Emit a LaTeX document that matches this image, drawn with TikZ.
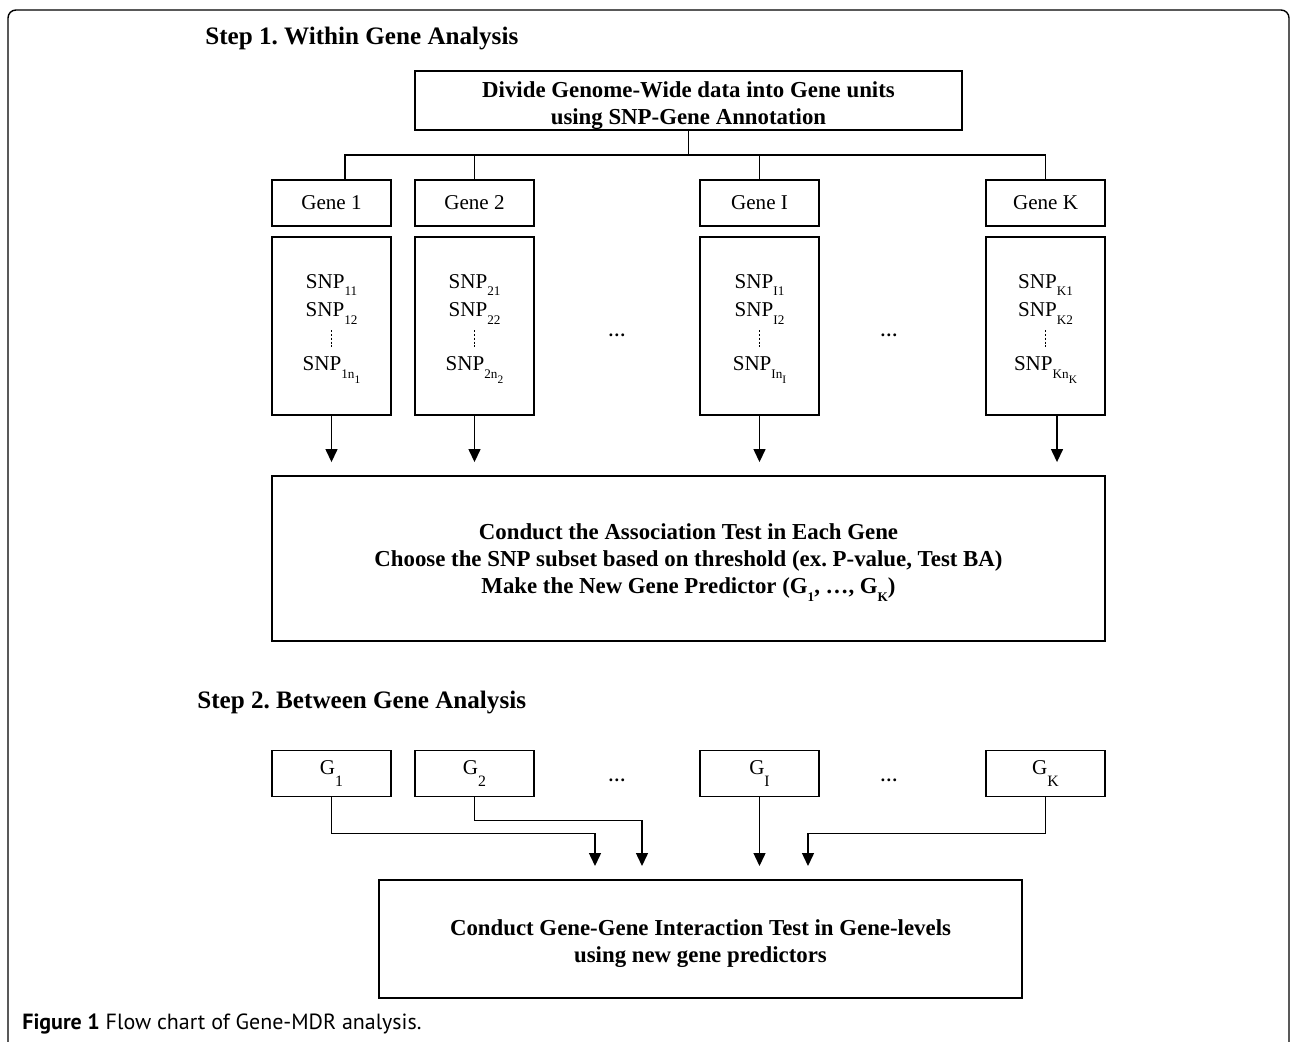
\documentclass[tikz,border=0pt]{standalone}
\usepackage{fontspec}
\setmainfont{Liberation Serif}
\newfontfamily\capfont{PT Sans}
\usetikzlibrary{arrows.meta}
\frenchspacing
\newcommand\snpsub[1]{\raisebox{-4.5pt}{\fontsize{7.5}{8}\selectfont#1}}
\newcommand\nsub[1]{\raisebox{-3pt}{\fontsize{6.5}{7}\selectfont#1}}
\newcommand\gsub[1]{\raisebox{-7pt}{\fontsize{9}{9}\selectfont#1}}
\tikzset{
  box/.style={draw, line width=1.1pt, inner sep=0pt, align=center},
  gene/.style={box, minimum width=2.38cm, minimum height=0.92cm, font=\fontsize{12}{14}\selectfont},
  snps/.style={box, minimum width=2.38cm, minimum height=3.56cm, font=\fontsize{12}{16}\selectfont},
  task/.style={box, font=\bfseries\fontsize{13}{15.6}\selectfont},
  title/.style={anchor=base west, inner sep=0pt, font=\bfseries\fontsize{14.3}{17}\selectfont},
  arr/.style={-{Triangle[length=0.26cm,width=0.24cm]}, line width=0.8pt},
  link/.style={line width=0.8pt},
  dotcol/.style={line width=1.1pt, dash pattern=on 1.1pt off 1.1pt}
}
\begin{document}
\begin{tikzpicture}[x=0.02cm, y=-0.02cm]
\useasboundingbox (0,0) rectangle (1290,1041);
\draw[line width=0.8pt, rounded corners=0.16cm] (8,10) rectangle (1289,1090);

% Step 1
\node[title] (step1) at (205,44) {Step 1. Within Gene Analysis};
\node[task, minimum width=10.94cm, minimum height=1.18cm] (divide) at (688.5,100.5) {\rule{0pt}{14.5pt}Divide Genome-Wide data into Gene units\\using SNP-Gene Annotation};

\node[gene] (gene1) at (331.5,203) {Gene 1};
\node[gene] (gene2) at (474.5,203) {Gene 2};
\node[gene] (geneI) at (759.5,203) {Gene I};
\node[gene] (geneK) at (1045.5,203) {Gene K};

\coordinate (bus) at (688.5,155);
\draw[link] (divide.south) -- (bus);
\draw[link] ([xshift=0.27cm]gene1.north) |- (bus) -| (geneK.north);
\draw[link] (gene2.north) -- (gene2.north |- bus);
\draw[link] (geneI.north) -- (geneI.north |- bus);

\node[snps] (snp1) at (331.5,326) {\rule{0pt}{11pt}SNP\snpsub{11}\\SNP\snpsub{12}\\[14.7pt]SNP\snpsub{1n\nsub{1}}};
\node[snps] (snp2) at (474.5,326) {\rule{0pt}{11pt}SNP\snpsub{21}\\SNP\snpsub{22}\\[14.7pt]SNP\snpsub{2n\nsub{2}}};
\node[snps] (snpI) at (759.5,326) {\rule{0pt}{11pt}SNP\snpsub{I1}\\SNP\snpsub{I2}\\[14.7pt]SNP\snpsub{In\nsub{I}}};
\node[snps] (snpK) at (1045.5,326) {\rule{0pt}{11pt}SNP\snpsub{K1}\\SNP\snpsub{K2}\\[14.7pt]SNP\snpsub{Kn\nsub{K}}};
\draw[dotcol] ([yshift=-0.08cm]snp1.center) -- ([yshift=-0.42cm]snp1.center);
\draw[dotcol] ([yshift=-0.08cm]snp2.center) -- ([yshift=-0.42cm]snp2.center);
\draw[dotcol] ([yshift=-0.08cm]snpI.center) -- ([yshift=-0.42cm]snpI.center);
\draw[dotcol] ([yshift=-0.08cm]snpK.center) -- ([yshift=-0.42cm]snpK.center);
\node (dots1) at (617,335) {\textbf{\dots}};
\node (dots2) at (889,335) {\textbf{\dots}};

\node[task, minimum width=16.66cm, minimum height=3.3cm] (assoc) at (688.5,558.5) {\rule{0pt}{13.5pt}Conduct the Association Test in Each Gene\\Choose the SNP subset based on threshold (ex. P-value, Test BA)\\Make the New Gene Predictor (G\snpsub{1}, \dots, G\snpsub{K})};

\draw[arr, shorten >=0.26cm] (snp1) -- (snp1 |- assoc.north);
\draw[arr, shorten >=0.26cm] (snp2) -- (snp2 |- assoc.north);
\draw[arr, shorten >=0.26cm] (snpI) -- (snpI |- assoc.north);
\draw[arr, shorten >=0.26cm] ([xshift=0.23cm]snpK.south) -- ([xshift=0.23cm]snpK.south |- assoc.north);

% Step 2
\node[title] (step2) at (197,708) {Step 2. Between Gene Analysis};

\node[gene] (g1) at (331.5,773.5) {G\gsub{1}};
\node[gene] (g2) at (474.5,773.5) {G\gsub{2}};
\node[gene] (gI) at (759.5,773.5) {G\gsub{I}};
\node[gene] (gK) at (1045.5,773.5) {G\gsub{K}};
\node (dots3) at (617,780) {\textbf{\dots}};
\node (dots4) at (889,780) {\textbf{\dots}};

\node[task, minimum width=12.86cm, minimum height=2.36cm] (inter) at (700.5,939) {\rule{0pt}{14.5pt}Conduct Gene-Gene Interaction Test in Gene-levels\\using new gene predictors};

\coordinate (in1) at (595,866);
\coordinate (in2) at (642,866);
\coordinate (inI) at (759.5,866);
\coordinate (inK) at (808,866);
\draw[arr] (g1.south) -- ++(0,36) -| (in1);
\draw[arr] (g2.south) -- ++(0,23) -| (in2);
\draw[arr] (gI.south) -- (inI);
\draw[arr] (gK.south) -- ++(0,36) -| (inK);

\node[anchor=base west, inner sep=0pt, font=\capfont\fontsize{12.5}{14}\selectfont] (caption) at (22,1029) {\textbf{Figure 1} Flow chart of Gene-MDR analysis.};
\end{tikzpicture}
\end{document}
